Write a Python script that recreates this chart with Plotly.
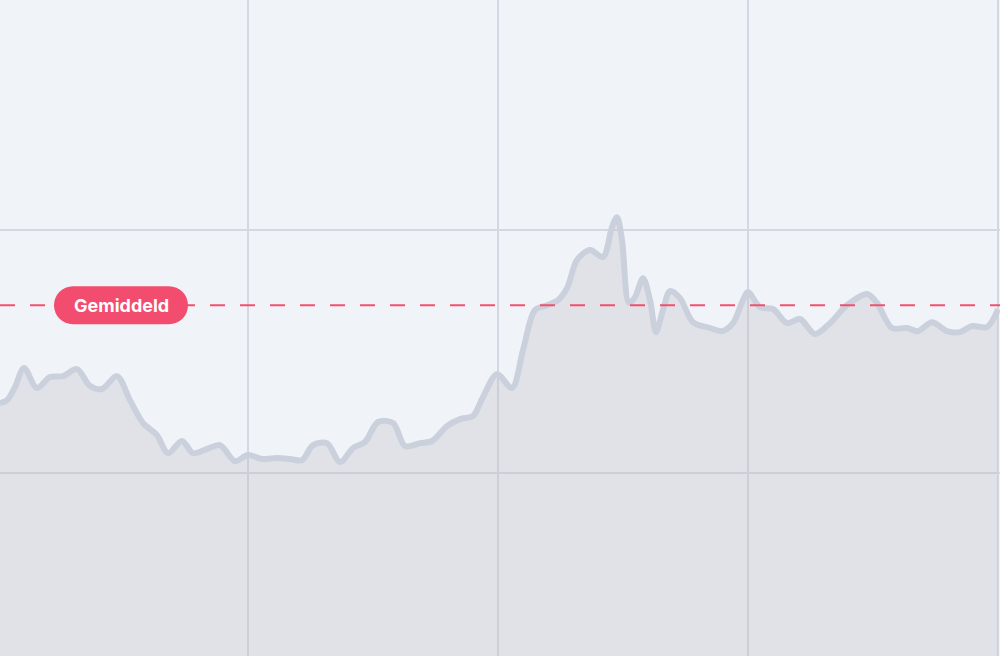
import plotly.graph_objects as go

# Days (x) and index values (y)
days = [0.2, 0.9, 1.7, 2.6, 3.9, 5.2, 6.5, 7.9, 9.2, 10.4, 11.9, 13.2, 14.5, 15.9,
        17.0, 18.4, 19.5, 20.9, 22.2, 23.7, 25.0, 26.4, 27.9, 29.2, 30.4, 31.5,
        32.9, 34.2, 35.5, 36.7, 38.0, 39.5, 40.7, 42.2, 43.4, 44.9, 46.2, 47.5,
        48.5, 49.9, 51.4, 52.5, 53.7, 54.9, 56.0, 56.9, 57.9, 59.2, 60.5, 61.4,
        61.9, 62.4, 63.1, 63.7, 64.5, 65.2, 65.8, 66.5, 67.2, 68.2, 69.5, 71.2,
        72.4, 73.5, 74.5, 75.0, 76.2, 77.5, 78.9, 80.2, 81.7, 83.2, 84.9, 86.9,
        87.9, 89.4, 90.9, 92.0, 93.4, 94.9, 96.2, 97.4, 98.9, 100.0]
values = [128.8, 130.0, 135.4, 143.2, 135.0, 139.5, 139.9, 142.8, 135.8, 134.6,
          139.9, 130.0, 120.6, 115.6, 108.2, 113.2, 108.2, 109.9, 111.5, 104.9,
          107.4, 105.8, 106.2, 105.8, 105.3, 111.5, 112.3, 104.5, 110.3, 112.8,
          121.0, 120.6, 111.1, 112.3, 113.2, 119.3, 122.2, 123.5, 131.3, 140.7,
          135.0, 150.6, 167.1, 169.1, 171.2, 176.1, 187.7, 191.8, 188.9, 201.2,
          205.3, 195.9, 170.0, 172.4, 180.2, 171.2, 158.0, 167.1, 174.9, 172.0,
          162.1, 159.7, 158.4, 161.7, 171.2, 174.5, 168.3, 167.5, 161.7, 163.4,
          157.2, 161.7, 169.1, 173.7, 170.0, 159.7, 159.7, 158.4, 162.1, 158.4,
          158.0, 160.5, 160.1, 167.5]
average_value = 169.1
average_label = "Gemiddeld"

fig = go.Figure()
fig.add_trace(go.Scatter(
    x=days, y=values, mode="lines",
    line=dict(color="rgb(203,208,221)", width=6, shape="spline", smoothing=0.9),
    fill="tozeroy", fillcolor="rgba(190,187,192,0.3)",
    hoverinfo="skip", showlegend=False,
))

# average dashed line
fig.add_shape(type="line", xref="paper", x0=0, x1=1, yref="y",
              y0=average_value, y1=average_value, layer="above",
              line=dict(color="rgb(242,80,110)", width=2, dash="15px,15px"))

# pill label
fig.add_shape(type="path", xref="paper", yref="y",
              xsizemode="pixel", ysizemode="pixel",
              xanchor=0.121, yanchor=average_value, layer="above",
              path=("M -48,-19 L 48,-19 C 58.5,-19 67,-10.5 67,0 C 67,10.5 58.5,19 48,19 "
                    "L -48,19 C -58.5,19 -67,10.5 -67,0 C -67,-10.5 -58.5,-19 -48,-19 Z"),
              fillcolor="rgb(242,76,110)", line=dict(width=0))
fig.add_annotation(x=0.121, xref="paper", y=average_value, yref="y",
                   text="<b>" + average_label + "</b>", showarrow=False,
                   font=dict(family="Inter, Roboto, sans-serif", size=18, color="white"),
                   xanchor="center", yanchor="middle")

fig.update_layout(
    width=1000, height=656, margin=dict(l=0, r=0, t=0, b=0),
    paper_bgcolor="rgb(240,244,249)", plot_bgcolor="rgb(240,244,249)",
    xaxis=dict(range=[0.2, 100.2], tick0=0, dtick=25, showgrid=True,
               gridcolor="rgb(211,217,226)", gridwidth=1.5, zeroline=False,
               showticklabels=False, ticks="", showline=False),
    yaxis=dict(range=[24.7, 294.7], tick0=0, dtick=100, showgrid=True,
               gridcolor="rgb(211,217,226)", gridwidth=1.5, zeroline=False,
               showticklabels=False, ticks="", showline=False),
)

fig.write_html("out.html", config={"displayModeBar": False},
               post_script="document.body.style.margin='0';")
